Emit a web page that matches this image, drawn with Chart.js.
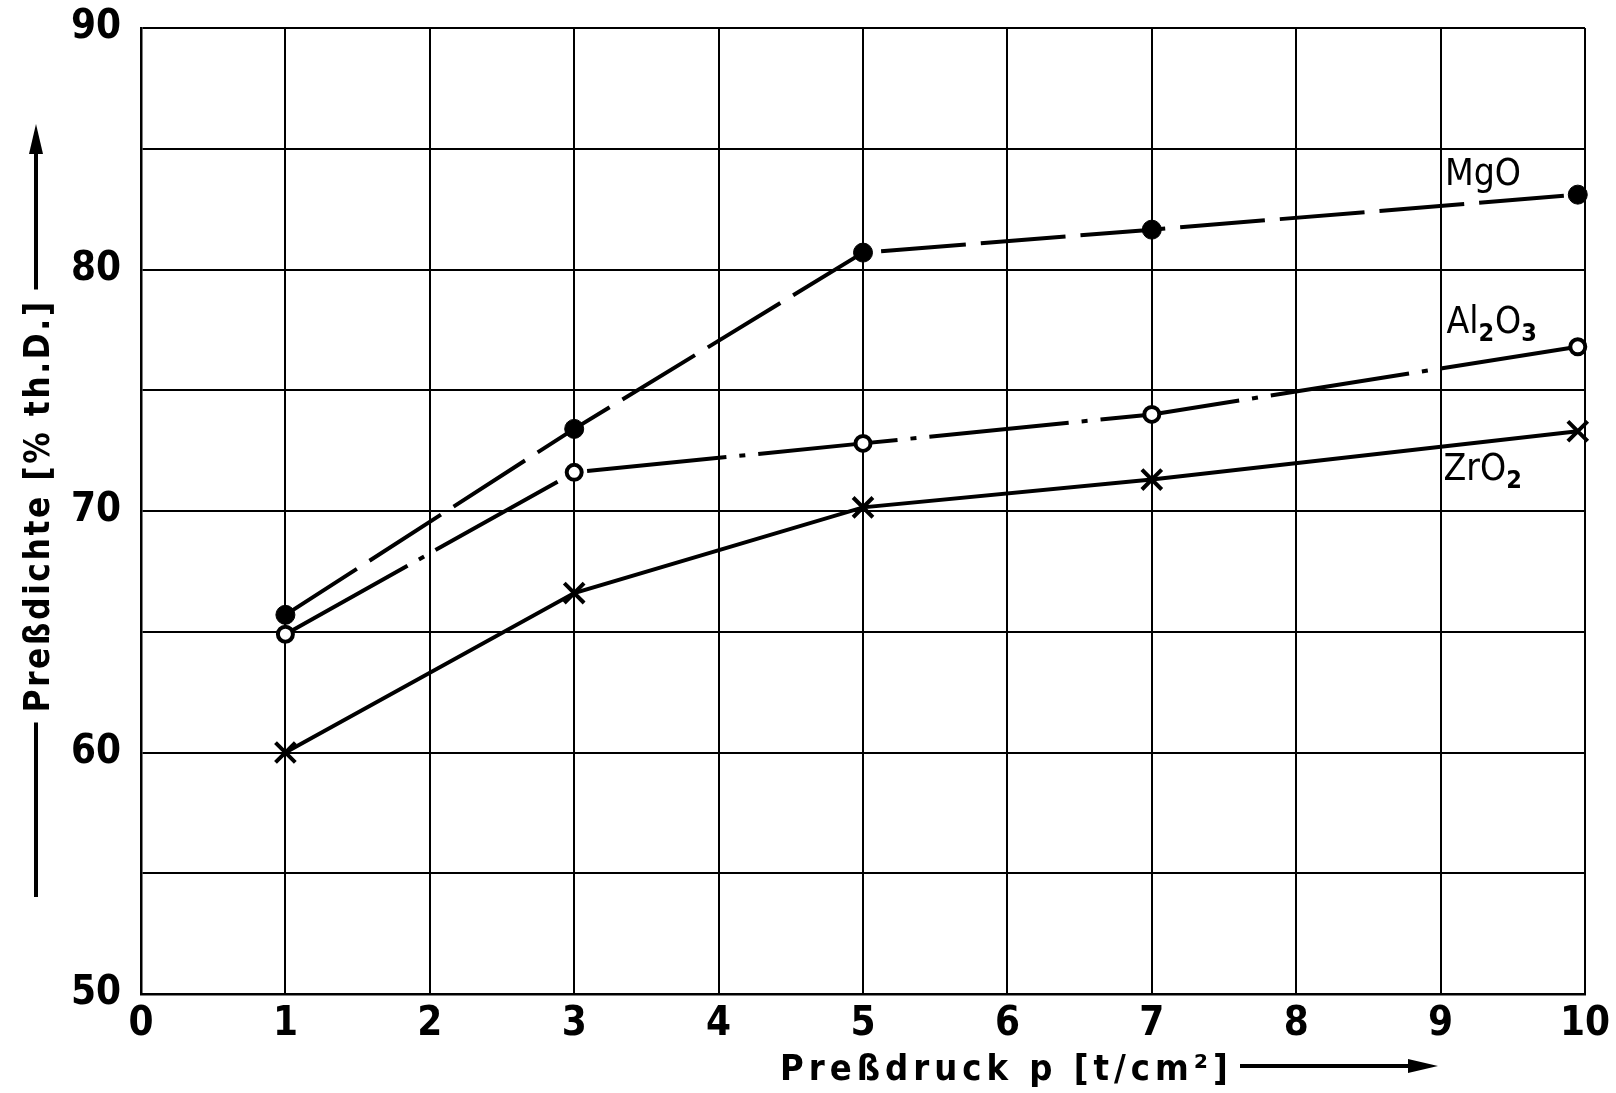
<!DOCTYPE html>
<html>
<head>
<meta charset="utf-8">
<script src="https://cdn.jsdelivr.net/npm/chart.js@4/dist/chart.umd.min.js"></script>
<style>
  html, body { margin: 0; padding: 0; background: #fff; }
  #wrap { width: 1616px; height: 1093px; }
</style>
</head>
<body>
<div id="wrap"><canvas id="c" width="1616" height="1093"></canvas></div>
<script>
// ---- data ----
const pressure = [1, 3, 5, 7, 9.95];            // Preßdruck p [t/cm²]
const mgo      = [65.7, 73.4, 80.7, 81.65, 83.1];
const al2o3    = [64.9, 71.6, 72.8, 74.0, 76.8];
const zro2     = [60.0, 66.6, 70.15, 71.3, 73.3];
const xTickValues = [0, 1, 2, 3, 4, 5, 6, 7, 8, 9, 10];
const yTickLabels = [50, 60, 70, 80, 90];
const seriesNames = [
  [['Mg', 0], ['O', 0]],
  [['Al', 0], ['2', 1], ['O', 0], ['3', 1]],
  [['Zr', 0], ['O', 0], ['2', 1]]
];
const seriesLabelX = [9.03, 9.04, 9.02];
const seriesLabelY = [83.5, 77.37, 71.3];
const xTitle = 'Preßdruck p [t/cm²]';
const yTitle = 'Preßdichte [% th.D.]';

const FONT = '"DejaVu Sans Condensed", "DejaVu Sans", sans-serif';
Chart.defaults.font.family = FONT;
Chart.defaults.color = '#000';

function pts(ys) { return pressure.map((x, i) => ({ x: x, y: ys[i] })); }
function noPad(s) { s.paddingTop = 0; s.paddingBottom = 0; s.paddingLeft = 0; s.paddingRight = 0; }

const annot = {
  id: 'annot',
  afterDraw(chart) {
    const ctx = chart.ctx;
    const xs = chart.scales.x, ys = chart.scales.y;
    ctx.save();
    ctx.fillStyle = '#000';
    ctx.strokeStyle = '#000';
    // series labels with subscripts
    seriesNames.forEach((segs, i) => {
      let px = xs.getPixelForValue(seriesLabelX[i]);
      const py = ys.getPixelForValue(seriesLabelY[i]);
      ctx.textBaseline = 'alphabetic';
      ctx.textAlign = 'left';
      segs.forEach(([t, sub]) => {
        ctx.font = sub ? ('bold 25px ' + FONT) : ('37px ' + FONT);
        ctx.fillText(t, px, py + (sub ? 8 : 0));
        px += ctx.measureText(t).width + (sub ? 1 : 0);
      });
    });

    // y title, rotated, with line + arrow
    ctx.font = 'bold 35px ' + FONT;
    try { ctx.letterSpacing = '2.5px'; } catch (e) {}
    const tw = ctx.measureText(yTitle).width;
    const cx = 36, cy = 506;
    ctx.save();
    ctx.translate(cx + 13, cy);
    ctx.rotate(-Math.PI / 2);
    ctx.textAlign = 'center';
    ctx.textBaseline = 'alphabetic';
    ctx.fillText(yTitle, 0, 0);
    ctx.restore();
    try { ctx.letterSpacing = '0px'; } catch (e) {}
    ctx.lineWidth = 4;
    ctx.beginPath();
    ctx.moveTo(cx, 897); ctx.lineTo(cx, cy + tw / 2 + 10);
    ctx.moveTo(cx, cy - tw / 2 - 10); ctx.lineTo(cx, 150);
    ctx.stroke();
    ctx.beginPath();
    ctx.moveTo(cx, 124); ctx.lineTo(cx - 7, 154); ctx.lineTo(cx + 7, 154); ctx.closePath();
    ctx.fill();

    // x title with arrow
    ctx.font = 'bold 36px ' + FONT;
    ctx.textAlign = 'left';
    ctx.textBaseline = 'alphabetic';
    try { ctx.letterSpacing = '5px'; } catch (e) {}
    ctx.fillText(xTitle, 780, 1080);
    try { ctx.letterSpacing = '0px'; } catch (e) {}
    const ay = 1066;
    ctx.beginPath();
    ctx.moveTo(1240, ay); ctx.lineTo(1412, ay);
    ctx.stroke();
    ctx.beginPath();
    ctx.moveTo(1438, ay); ctx.lineTo(1408, ay - 7); ctx.lineTo(1408, ay + 7); ctx.closePath();
    ctx.fill();
    ctx.restore();
  }
};

new Chart(document.getElementById('c'), {
  type: 'scatter',
  data: {
    datasets: [
      {
        label: 'MgO', data: pts(mgo), showLine: true,
        borderColor: '#000', borderWidth: 4, borderDash: [85, 15],
        pointStyle: 'circle', pointRadius: 9.5, pointBackgroundColor: '#000',
        pointBorderColor: '#000', pointBorderWidth: 1, clip: false
      },
      {
        label: 'Al2O3', data: pts(al2o3), showLine: true,
        borderColor: '#000', borderWidth: 4, borderDash: [140, 13, 6, 13],
        pointStyle: 'circle', pointRadius: 7.5, pointBackgroundColor: '#fff',
        pointBorderColor: '#000', pointBorderWidth: 4, clip: false
      },
      {
        label: 'ZrO2', data: pts(zro2), showLine: true,
        borderColor: '#000', borderWidth: 4,
        pointStyle: 'crossRot', pointRadius: 14,
        pointBorderColor: '#000', pointBorderWidth: 4, clip: false
      }
    ]
  },
  options: {
    responsive: false,
    animation: false,
    layout: { padding: { left: 0, top: 28, right: 31, bottom: 0 } },
    plugins: { legend: { display: false }, tooltip: { enabled: false } },
    scales: {
      x: {
        type: 'linear', min: 0, max: 10,
        afterBuildTicks: s => { s.ticks = xTickValues.map(v => ({ value: v })); },
        afterFit: s => { s.height = 99; noPad(s); },
        grid: { color: '#000', lineWidth: 2, drawTicks: false },
        border: { color: '#000', width: 2.5 },
        ticks: { font: { size: 40, weight: 'bold', lineHeight: 1 }, padding: 11, color: '#000', maxRotation: 0 }
      },
      y: {
        type: 'linear', min: 50, max: 90,
        ticks: {
          stepSize: 5, font: { size: 40, weight: 'bold', lineHeight: 1 }, padding: 20, color: '#000',
          callback: v => yTickLabels.includes(v) ? String(v) : ''
        },
        afterFit: s => { s.width = 141; noPad(s); },
        grid: { color: '#000', lineWidth: 2, drawTicks: false },
        border: { color: '#000', width: 2.5 }
      }
    }
  },
  plugins: [annot]
});
</script>
</body>
</html>
